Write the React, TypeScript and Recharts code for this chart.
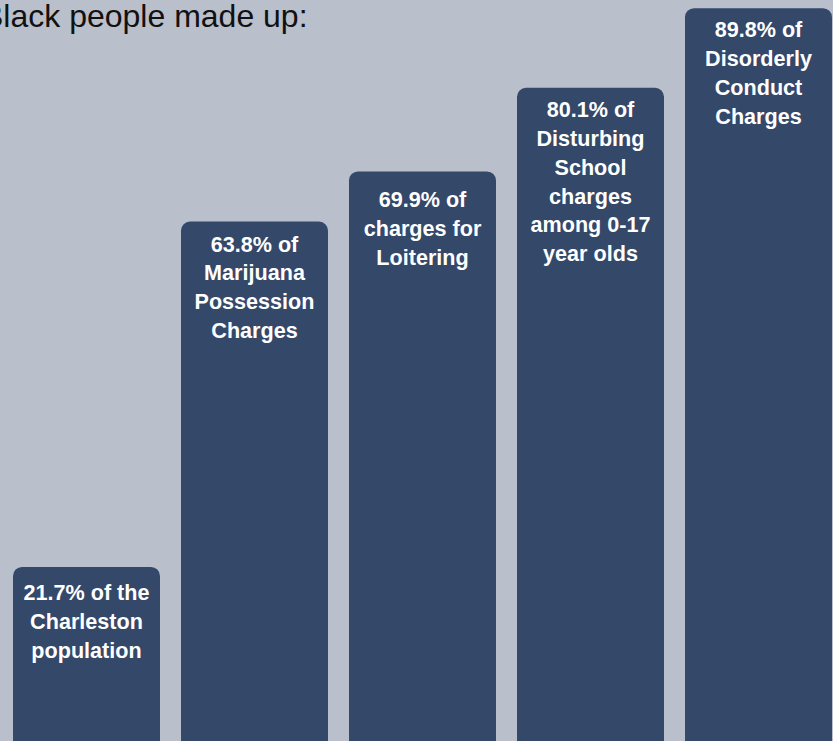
import { BarChart, Bar, XAxis, YAxis, LabelList } from "recharts"

// share of each group made up by Black people (%)
const categories = [
  "Charleston population",
  "Marijuana Possession",
  "Loitering",
  "Disturbing School (0-17)",
  "Disorderly Conduct",
]
const shares = [21.7, 63.8, 69.9, 80.1, 89.8]
const labelLines = [
  ["21.7% of the", "Charleston", "population"],
  ["63.8% of", "Marijuana", "Possession", "Charges"],
  ["69.9% of", "charges for", "Loitering"],
  ["80.1% of", "Disturbing", "School", "charges", "among 0-17", "year olds"],
  ["89.8% of", "Disorderly", "Conduct", "Charges"],
]

const BG = "#b9bfcb"
const BAR = "#34486a"
const FONT = "'Liberation Sans', Arial, Helvetica, sans-serif"
// first-line baseline below each bar top (labels were hand placed in the original)
const LABEL_PAD = [33, 30, 36, 29.5, 29]

export default function App() {
  const chartData = categories.map((name, i) => ({ name, value: shares[i] }))

  // multi-line white label sitting at the top of each bar
  const renderLabel = (props: any) => {
    const { x, y, width, index } = props
    const lines = labelLines[index] || []
    const cx = x + width / 2
    return (
      <text
        x={cx}
        y={y + (LABEL_PAD[index] ?? 30)}
        fill="#ffffff"
        textAnchor="middle"
        fontFamily={FONT}
        fontWeight={700}
        fontSize={21.6}
      >
        {lines.map((line, i) => (
          <tspan key={`l-${i}`} x={cx} dy={i === 0 ? 0 : 28.8}>
            {line}
          </tspan>
        ))}
      </text>
    )
  }

  return (
    <div
      style={{
        position: "fixed",
        left: 0,
        top: 0,
        width: 833,
        height: 741,
        overflow: "hidden",
        background: BG,
      }}
    >
      <div
        style={{
          position: "absolute",
          left: -18,
          top: 0,
          fontFamily: FONT,
          fontSize: 32,
          lineHeight: "32px",
          color: "#111111",
          whiteSpace: "nowrap",
        }}
      >
        Black people made up:
      </div>
      <BarChart
        width={843}
        height={745}
        data={chartData}
        margin={{ top: 0, right: 1, bottom: 0, left: 2 }}
      >
        <XAxis dataKey="name" hide />
        <YAxis hide domain={[0, 90.8]} />
        <Bar
          dataKey="value"
          fill={BAR}
          barSize={147}
          radius={[9, 9, 0, 0]}
          isAnimationActive={false}
        >
          <LabelList dataKey="value" content={renderLabel} />
        </Bar>
      </BarChart>
    </div>
  )
}
